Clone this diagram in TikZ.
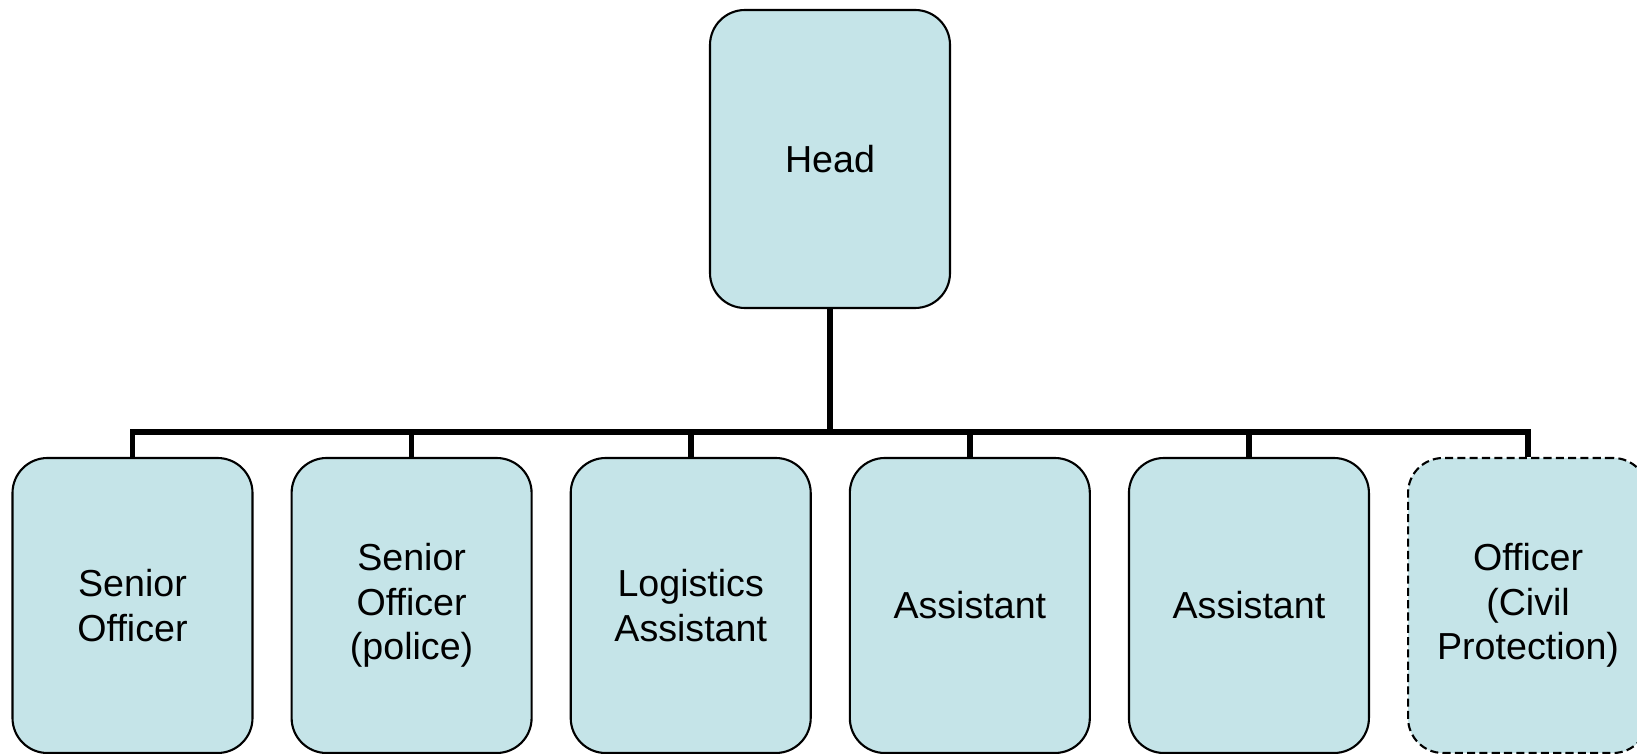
\documentclass[tikz,border=0pt]{standalone}
\usepackage{fontspec}
\setmainfont{Liberation Sans}
\usetikzlibrary{positioning}
\definecolor{postfill}{RGB}{197,228,232}
\tikzset{
  post/.style={draw, fill=postfill, rounded corners=0.35cm, line width=0.6pt,
    minimum width=2.4cm, minimum height=2.95cm, inner sep=0pt, align=center,
    font=\fontsize{10.7}{12.6}\selectfont},
  vacant/.style={post, dash pattern=on 2.3pt off 1.2pt},
  link/.style={line width=1.6pt, line join=miter}
}

\begin{document}
\begin{tikzpicture}
        \clip (0,0) rectangle (16.37,-7.54);
        % top of the tree
        \node[post, minimum height=2.98cm] (head) at (8.30,-1.59) {Head};
        % the six posts below
        \node[post] (senior) at (1.325,-6.055) {Senior\\Officer};
        \node[post, right=0.37cm of senior] (police) {Senior\\Officer\\(police)};
        \node[post, right=0.37cm of police] (logistics) {Logistics\\Assistant};
        \node[post, right=0.37cm of logistics] (assistA) {Assistant};
        \node[post, right=0.37cm of assistA] (assistB) {Assistant};
        \node[vacant, right=0.37cm of assistB] (civil) {Officer\\(Civil\\Protection)};
        % connectors
        \coordinate (bar) at (8.30,-4.32);
        \draw[link] (head.south) -- (bar);
        \draw[link] (senior.north) -- (senior.north |- bar)
                 -- (civil.north |- bar) -- (civil.north);
        \foreach \p in {police,logistics,assistA,assistB} {
            \draw[link] (\p.north |- bar) -- (\p.north);
        }
    \end{tikzpicture}
\end{document}
